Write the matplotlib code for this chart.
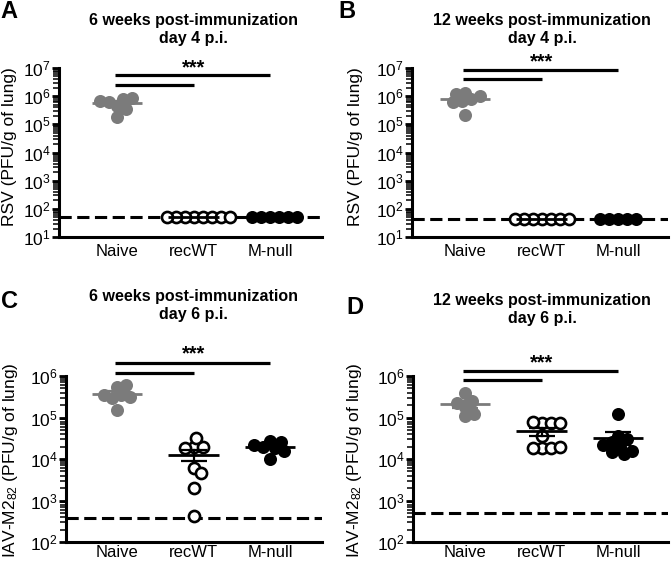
import numpy as np
import matplotlib
matplotlib.use('Agg')
import matplotlib.pyplot as plt
from matplotlib.ticker import LogLocator, LogFormatterSciNotation, NullFormatter

plt.rcParams['font.family'] = ['Liberation Sans', 'DejaVu Sans']
plt.rcParams['mathtext.fontset'] = 'custom'
plt.rcParams['mathtext.rm'] = 'Liberation Sans'
plt.rcParams['mathtext.it'] = 'Liberation Sans:italic'
plt.rcParams['mathtext.bf'] = 'Liberation Sans:bold'

CATEGORIES = ['Naive', 'recWT', 'M-null']

# titers (PFU/g of lung), left-to-right within each group
A_NAIVE = [4.5e5, 8.0e5, 6.0e5, 1.8e5, 3.5e5, 8.5e5, 7.0e5]
A_RECWT = [50] * 8
A_MNULL = [50] * 6
A_LOD = 50

B_NAIVE = [1.3e6, 8.0e5, 6.5e5, 2.2e5, 6.0e5, 1.0e6, 1.2e6]
B_RECWT = [44] * 7
B_MNULL = [44] * 5
B_LOD = 44

C_NAIVE = [5.5e5, 3.5e5, 3.0e5, 1.5e5, 3.2e5, 6.0e5, 3.5e5]
C_RECWT = [2.0e4, 6.0e3, 4.5e3, 1.9e4, 1.8e4, 2.0e3, 4.2e2, 3.2e4]
C_MNULL = [2.7e4, 1.8e4, 2.0e4, 1.0e4, 1.6e4, 2.2e4, 2.6e4]
C_LOD = 380

D_NAIVE = [1.8e5, 1.1e5, 4.0e5, 2.5e5, 1.2e5, 2.2e5]
D_RECWT = [7.5e4, 3.5e4, 1.8e4, 7.5e4, 1.8e4, 8.0e4, 1.8e4, 2.0e4, 7.5e4]
D_MNULL = [1.2e5, 3.5e4, 3.0e4, 2.5e4, 2.0e4, 1.5e4, 1.3e4, 1.6e4, 2.2e4]
D_LOD = 500

W, H = 671, 563
GRAY = '#7b7b7b'


def fx(x):
    return x / W


def fy(y):
    return 1 - y / H


def swarm(ax, xc, values, diam_px):
    """Spread points horizontally so markers don't sit on top of each other."""
    disp = ax.transData.transform(np.column_stack([np.full(len(values), xc), values]))
    x0, ys = disp[0, 0], disp[:, 1]
    cands = [0.0]
    for k in range(1, 400):
        cands += [k * 0.5, -k * 0.5]
    placed, xs = [], []
    for y in ys:
        for c in cands:
            if all((c - px) ** 2 + (y - py) ** 2 >= diam_px ** 2 for px, py in placed):
                break
        placed.append((c, y))
        xs.append(x0 + c)
    return ax.transData.inverted().transform(np.column_stack([xs, ys]))[:, 0]


def draw_group(ax, xc, values, style):
    vals = np.asarray(values, dtype=float)
    xs = swarm(ax, xc, vals, 8.8)
    if style == 'gray':
        ax.scatter(xs, vals, s=88, color=GRAY, linewidths=0, zorder=3, clip_on=False)
        lc = GRAY
    elif style == 'open':
        ax.scatter(xs, vals, s=64, facecolor='white', edgecolor='black',
                   linewidths=1.9, zorder=3, clip_on=False)
        lc = 'black'
    else:
        ax.scatter(xs, vals, s=88, color='black', linewidths=0, zorder=3, clip_on=False)
        lc = 'black'
    mean = vals.mean()
    sem = vals.std(ddof=1) / np.sqrt(len(vals)) if len(set(values)) > 1 else 0.0
    ax.plot([xc - 0.33, xc + 0.33], [mean, mean], color=lc, lw=2, zorder=4,
            solid_capstyle='butt')
    if sem > 0:
        for v in (mean - sem, mean + sem):
            ax.plot([xc - 0.17, xc + 0.17], [v, v], color=lc, lw=1.6, zorder=4,
                    solid_capstyle='butt')
        ax.plot([xc, xc], [mean - sem, mean + sem], color=lc, lw=1.6, zorder=4)


def panel(rect_px, xlim, ylim, groups, lod, letter, letter_xy, title, title_xy,
          ylabel, ylabel_xy, sig_y, star_y, xpad):
    left, top, right, bottom = rect_px
    ax = fig.add_axes([fx(left), fy(bottom), fx(right - left), (bottom - top) / H])
    ax.set_yscale('log')
    ax.set_xlim(*xlim)
    ax.set_ylim(*ylim)
    for s in ('top', 'right'):
        ax.spines[s].set_visible(False)
    for s in ('left', 'bottom'):
        ax.spines[s].set_linewidth(2.2)
    ax.yaxis.set_major_locator(LogLocator(base=10, numticks=12))
    ax.yaxis.set_minor_locator(LogLocator(base=10, subs=np.arange(2, 10), numticks=12))
    ax.yaxis.set_major_formatter(LogFormatterSciNotation())
    ax.yaxis.set_minor_formatter(NullFormatter())
    ax.tick_params(axis='y', which='major', length=5, width=2, pad=1, labelsize=12.5)
    ax.tick_params(axis='y', which='minor', length=4.5, width=1.1)
    ax.set_xticks(range(len(CATEGORIES)))
    ax.set_xticklabels(CATEGORIES)
    ax.tick_params(axis='x', length=0, pad=xpad, labelsize=12)

    ax.axhline(lod, color='black', lw=2.2, ls=(0, (4, 1.8)), zorder=2)
    for i, (vals, style) in enumerate(groups):
        draw_group(ax, i, vals, style)

    for end, yy in zip((2, 1), sig_y):
        ax.plot([-0.03, end], [10 ** yy, 10 ** yy], color='black', lw=2.3,
                clip_on=False, solid_capstyle='butt')
    ax.text(1, 10 ** star_y, '***', ha='center', va='center', fontsize=14.5,
            fontweight='bold')

    fig.text(fx(letter_xy[0]), fy(letter_xy[1]), letter, ha='center', va='center',
             fontsize=17, fontweight='bold')
    for k, line in enumerate(title):
        fig.text(fx(title_xy[0]), fy(title_xy[1] + 18 * k), line, ha='center',
                 va='center', fontsize=11.5, fontweight='bold')
    fig.text(fx(ylabel_xy[0]), fy(ylabel_xy[1]), ylabel, ha='center', va='center',
             rotation=90, fontsize=12.5)
    return ax


fig = plt.figure(figsize=(W / 100, H / 100), dpi=100)

rsv_label = 'RSV (PFU/g of lung)'
iav_label = r'IAV-M2$_{\mathrm{82}}$ (PFU/g of lung)'

panel((59, 68, 322, 237), (-0.76, 2.68), (10, 1e7),
      [(A_NAIVE, 'gray'), (A_RECWT, 'open'), (A_MNULL, 'black')], A_LOD,
      'A', (9, 11), ['6 weeks post-immunization', 'day 4 p.i.'], (193, 20),
      rsv_label, (10, 147), (6.74, 6.39), 6.99, 5)

panel((412, 68, 668, 237), (-0.69, 2.65), (10, 1e7),
      [(B_NAIVE, 'gray'), (B_RECWT, 'open'), (B_MNULL, 'black')], B_LOD,
      'B', (347, 11), ['12 weeks post-immunization', 'day 4 p.i.'], (542, 20),
      rsv_label, (355, 147), (6.94, 6.61), 7.22, 5)

panel((66, 376, 322, 542), (-0.67, 2.68), (100, 1e6),
      [(C_NAIVE, 'gray'), (C_RECWT, 'open'), (C_MNULL, 'black')], C_LOD,
      'C', (9, 302), ['6 weeks post-immunization', 'day 6 p.i.'], (193, 297),
      iav_label, (11, 460), (6.32, 6.08), 6.53, 2)

panel((413, 376, 668, 542), (-0.68, 2.65), (100, 1e6),
      [(D_NAIVE, 'gray'), (D_RECWT, 'open'), (D_MNULL, 'black')], D_LOD,
      'D', (355, 307), ['12 weeks post-immunization', 'day 6 p.i.'], (542, 301),
      iav_label, (354, 460), (6.13, 5.90), 6.32, 2)

fig.savefig('out.png', dpi=100)
